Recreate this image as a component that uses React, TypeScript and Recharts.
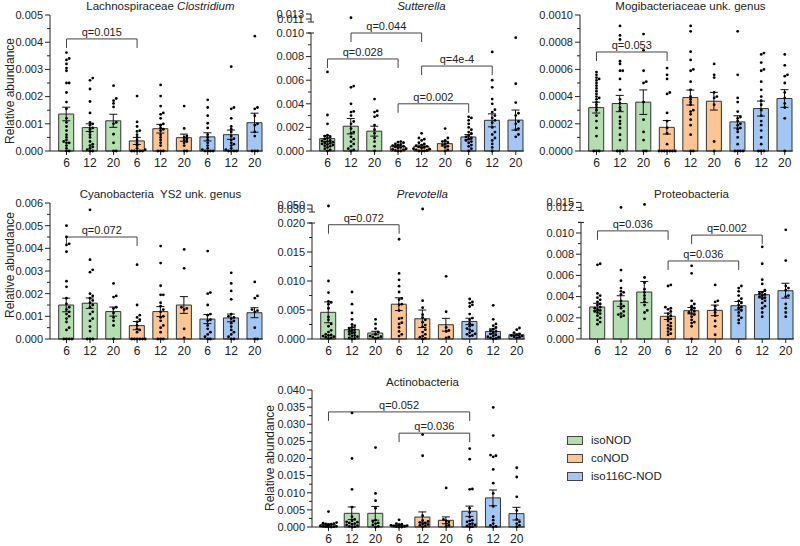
import React from 'react'
import { ComposedChart, Bar, Scatter, XAxis, YAxis, ErrorBar, Cell, ReferenceLine } from 'recharts'

const FONT = '"Liberation Sans", Arial, sans-serif'
const INK = '#222'

const groups = ['isoNOD', 'coNOD', 'iso116C-NOD']
const groupColors = ['#b3dfb0', '#fdc591', '#a3c7f4']
const ages = ['6', '12', '20']

// Lachnospiraceae Clostridium, x1e-3
const clostridiumMean = [1.36, 0.86, 1.11, 0.37, 0.82, 0.49, 0.52, 0.6, 1.04]
const clostridiumSem = [0.25, 0.14, 0.24, 0.13, 0.16, 0.13, 0.15, 0.17, 0.35]
const clostridiumPts = [
  [3.62, 3.4, 3.35, 3.2, 3.05, 2.95, 2.5, 2.5, 2.15, 1.8, 1.55, 1.2, 1.05, 0.9, 0.75, 0.6, 0.5, 0.4, 0.35, 0.3, 0.3, 0.2, 0.1, 0, 0],
  [2.68, 2.6, 2.28, 1.82, 1.4, 1.05, 1.0, 0.95, 0.85, 0.8, 0.7, 0.6, 0.5, 0.35, 0.25, 0.2, 0.15, 0.1, 0.05, 0, 0],
  [2.4, 1.93, 1.85, 1.75, 1.62, 1.05, 1.0, 0.62, 0.3, 0, 0],
  [2.02, 1.07, 0.9, 0.75, 0.72, 0.6, 0.5, 0.4, 0.3, 0.2, 0.1, 0.05, 0, 0, 0, 0, 0],
  [2.43, 2.02, 1.65, 1.4, 1.35, 1.2, 1.0, 0.95, 0.85, 0.8, 0.75, 0.6, 0.5, 0.4, 0.3, 0.2, 0, 0, 0],
  [1.65, 0.83, 0.55, 0.5, 0.45, 0.4, 0.35, 0.3, 0.2, 0, 0],
  [1.88, 1.6, 1.3, 1.02, 0.85, 0.6, 0.5, 0.4, 0.3, 0.2, 0.1, 0.05, 0, 0, 0, 0],
  [3.1, 1.6, 1.55, 1.2, 0.9, 0.8, 0.7, 0.55, 0.45, 0.4, 0.3, 0.25, 0.2, 0.1, 0.05, 0, 0, 0, 0],
  [4.22, 1.6, 1.55, 1.3, 1.0, 0.95, 0.7, 0.55, 0, 0, 0],
]

// Sutterella, x1e-3
const sutterellaMean = [1.05, 2.1, 1.68, 0.4, 0.4, 0.62, 1.19, 2.6, 2.62]
const sutterellaSem = [0.25, 0.65, 0.42, 0.08, 0.1, 0.2, 0.2, 0.55, 0.85]
const sutterellaPts = [
  [6.7, 3.05, 2.3, 1.35, 1.25, 1.2, 1.1, 1.0, 0.9, 0.85, 0.8, 0.75, 0.7, 0.65, 0.6, 0.55, 0.5, 0.45, 0.4, 0.3, 0.2, 0.1, 0],
  [11.5, 5.5, 5.4, 4.0, 3.35, 3.3, 3.0, 2.5, 2.3, 1.9, 1.6, 1.5, 1.2, 1.0, 0.8, 0.6, 0.4, 0.2, 0.1, 0],
  [4.4, 3.4, 3.3, 3.0, 2.9, 2.2, 1.8, 1.5, 1.1, 0.8, 0.4, 0],
  [0.8, 0.75, 0.7, 0.6, 0.55, 0.5, 0.45, 0.4, 0.35, 0.3, 0.25, 0.2, 0.15, 0.1, 0.05, 0, 0],
  [1.5, 1.1, 1.0, 0.9, 0.7, 0.6, 0.5, 0.45, 0.4, 0.35, 0.3, 0.25, 0.2, 0.15, 0.1, 0.05, 0, 0, 0],
  [1.9, 1.1, 0.9, 0.8, 0.7, 0.6, 0.5, 0.4, 0.3, 0.1, 0],
  [2.9, 2.8, 2.6, 2.3, 2.0, 1.8, 1.6, 1.5, 1.3, 1.2, 1.1, 1.0, 0.9, 0.8, 0.7, 0.5, 0.4, 0.2, 0],
  [8.4, 6.0, 5.4, 4.4, 4.0, 3.5, 3.3, 3.0, 2.8, 2.6, 2.4, 2.0, 1.6, 1.4, 1.1, 0.9, 0.6, 0.3, 0],
  [9.6, 5.7, 4.1, 3.2, 3.0, 2.5, 2.3, 1.9, 1.8, 1.4, 1.2],
]

// Mogibacteriaceae unk. genus, x1e-4
const mogiMean = [3.19, 3.49, 3.59, 1.74, 3.93, 3.66, 2.14, 3.12, 3.86]
const mogiSem = [0.4, 0.6, 0.9, 0.5, 0.55, 0.65, 0.45, 0.55, 0.65]
const mogiPts = [
  [5.8, 5.6, 5.4, 5.3, 5.2, 5.0, 4.8, 4.6, 4.4, 4.2, 4.0, 3.9, 3.8, 3.6, 3.4, 3.2, 3.0, 2.6, 2.2, 1.7, 1.1, 0, 0, 0],
  [9.2, 8.5, 8.2, 6.6, 6.4, 5.9, 5.9, 5.3, 4.5, 3.8, 3.5, 3.2, 3.0, 2.5, 2.2, 2.0, 1.7, 1.2, 0.8, 0, 0, 0],
  [8.6, 7.4, 5.9, 5.1, 5.0, 3.6, 2.3, 1.4, 0.8, 0, 0],
  [6.1, 5.6, 5.3, 4.3, 4.2, 2.8, 2.2, 1.7, 1.3, 0.5, 0, 0, 0, 0, 0, 0, 0],
  [9.2, 8.8, 7.3, 6.7, 6.0, 5.9, 5.1, 4.5, 4.0, 3.8, 3.6, 3.4, 3.0, 2.9, 2.7, 2.3, 1.9, 1.2, 0, 0],
  [6.4, 5.6, 5.4, 4.3, 4.0, 3.9, 3.4, 0.7, 0],
  [8.8, 5.6, 3.9, 3.6, 2.9, 2.5, 2.4, 2.2, 2.0, 1.9, 1.7, 1.6, 1.4, 1.0, 0.5, 0, 0, 0, 0],
  [7.2, 7.1, 6.5, 6.0, 5.9, 5.1, 4.5, 4.0, 3.7, 3.4, 3.0, 2.6, 2.2, 1.9, 1.5, 1.0, 0.5, 0, 0, 0],
  [7.1, 6.3, 5.6, 5.5, 5.0, 4.3, 3.9, 3.5, 3.2, 2.4, 0],
]

// Cyanobacteria YS2 unk. genus, x1e-3
const cyanoMean = [1.5, 1.58, 1.21, 0.59, 1.21, 1.5, 0.88, 0.93, 1.16]
const cyanoSem = [0.3, 0.23, 0.2, 0.18, 0.22, 0.37, 0.2, 0.17, 0.22]
const cyanoPts = [
  [5.0, 4.5, 4.2, 4.15, 3.85, 2.55, 2.3, 1.8, 1.55, 1.4, 1.3, 1.2, 1.1, 1.0, 0.9, 0.75, 0.5, 0.4, 0, 0, 0, 0],
  [5.7, 3.5, 3.05, 2.95, 2.0, 1.9, 1.8, 1.7, 1.6, 1.5, 1.4, 1.2, 1.1, 0.9, 0.8, 0.55, 0.35, 0, 0, 0],
  [2.45, 1.9, 1.85, 1.4, 1.35, 1.15, 0.95, 0.8, 0.6, 0],
  [3.28, 1.5, 1.05, 0.95, 0.85, 0.75, 0.6, 0.45, 0.4, 0.3, 0, 0, 0, 0, 0, 0],
  [4.1, 3.35, 2.35, 1.95, 1.95, 1.6, 1.45, 1.3, 1.2, 1.0, 0.95, 0.8, 0.6, 0.5, 0.3, 0, 0, 0],
  [3.95, 3.12, 1.4, 1.35, 1.3, 0.45, 0.05],
  [3.88, 2.05, 2.0, 1.5, 1.1, 1.05, 0.85, 0.8, 0.6, 0.45, 0.3, 0.2, 0.1, 0, 0],
  [2.92, 2.45, 2.12, 1.75, 1.1, 1.0, 0.95, 0.9, 0.8, 0.7, 0.55, 0.4, 0.3, 0.2, 0.1, 0, 0],
  [2.52, 1.9, 1.8, 1.3, 1.25, 1.2, 0.5, 0, 0],
]

// Prevotella, x1e-3
const prevotellaMean = [4.6, 1.6, 1.03, 6.0, 3.49, 2.46, 3.03, 1.3, 0.74]
const prevotellaSem = [1.8, 0.4, 0.3, 1.1, 1.5, 1.1, 0.55, 0.45, 0.15]
const prevotellaPts = [
  [45, 10.0, 8.0, 6.5, 6.3, 6.0, 5.3, 3.8, 3.3, 2.6, 2.2, 1.5, 1.2, 0.8, 0.7, 0.6, 0.5, 0.4, 0.3, 0.2, 0.1],
  [8.1, 6.0, 4.5, 3.4, 2.5, 2.3, 2.0, 1.8, 1.6, 1.5, 1.3, 1.1, 1.0, 0.8, 0.6, 0.5, 0.4, 0.2, 0.1, 0],
  [3.4, 2.6, 1.8, 1.2, 0.8, 0.5, 0.4, 0.3, 0.2, 0.1],
  [17.2, 11.3, 10.2, 9.1, 8.1, 7.0, 6.8, 6.0, 5.9, 4.9, 3.6, 3.5, 2.8, 2.6, 2.0, 1.3, 0.8, 0.5],
  [30, 6.6, 5.4, 4.2, 3.7, 3.3, 2.9, 2.4, 2.1, 1.6, 1.2, 0.8, 0.5, 0.3, 0.1, 0],
  [10.8, 4.7, 2.0, 1.5, 1.3, 0.3, 0.2],
  [6.9, 6.4, 6.2, 5.9, 5.6, 4.3, 3.6, 3.3, 2.7, 2.4, 2.2, 1.8, 1.6, 1.4, 1.1, 0.9, 0.8, 0.6, 0.5],
  [5.8, 3.4, 2.6, 2.3, 2.0, 1.7, 1.5, 1.3, 1.1, 0.9, 0.7, 0.5, 0.4, 0.3, 0.2, 0.1, 0],
  [1.9, 1.6, 1.1, 0.9, 0.7, 0.6, 0.5, 0.4, 0.3, 0.2],
]

// Proteobacteria, x1e-3
const proteoMean = [3.02, 3.58, 4.43, 2.14, 2.67, 2.7, 3.14, 4.18, 4.56]
const proteoSem = [0.35, 0.5, 1.0, 0.3, 0.3, 0.5, 0.4, 0.3, 0.7]
const proteoPts = [
  [7.1, 7.0, 4.3, 4.1, 3.9, 3.7, 3.5, 3.3, 3.2, 3.0, 2.9, 2.8, 2.7, 2.6, 2.5, 2.4, 2.2, 2.0, 1.8, 1.6, 1.4],
  [12, 6.5, 5.5, 4.8, 4.5, 4.4, 4.2, 3.6, 3.3, 3.1, 2.9, 2.6, 2.4, 2.3, 2.2, 2.1],
  [13.8, 5.8, 5.3, 4.7, 4.4, 4.1, 3.8, 3.5, 3.2, 2.7, 2.5, 1.9],
  [5.1, 5.0, 3.0, 2.9, 2.8, 2.6, 2.4, 2.2, 2.0, 1.9, 1.7, 1.5, 1.3, 1.2, 1.0, 0.9, 0.7, 0.5, 0.4],
  [6.9, 6.2, 3.6, 3.3, 3.1, 2.9, 2.8, 2.6, 2.5, 2.4, 2.3, 2.1, 1.8, 1.6, 1.5, 1.2, 0],
  [5.1, 3.6, 3.5, 3.1, 2.8, 2.5, 2.2, 1.7, 1.2, 0.4],
  [5.0, 4.8, 4.5, 4.1, 3.8, 3.6, 3.4, 3.2, 3.0, 2.9, 2.7, 2.5, 2.2, 2.0, 1.8, 1.5],
  [8.7, 7.1, 5.6, 5.2, 4.6, 4.4, 4.3, 4.2, 4.1, 4.0, 3.9, 3.8, 3.6, 3.4, 3.1, 2.9, 2.5, 2.1],
  [10.3, 7.4, 5.0, 4.8, 4.6, 4.1, 4.0, 3.3, 2.9, 2.5, 2.1],
]

// Actinobacteria, x1e-3
const actinoMean = [0.68, 4.0, 4.0, 0.5, 2.9, 1.95, 4.6, 8.5, 3.9]
const actinoSem = [0.2, 1.85, 2.0, 0.1, 1.5, 1.0, 1.5, 2.3, 1.85]
const actinoPts = [
  [4.5, 1.3, 1.1, 1.0, 0.9, 0.8, 0.7, 0.6, 0.5, 0.4, 0.3, 0.2, 0.2, 0.1, 0.1, 0, 0],
  [33.3, 20.0, 11.0, 5.8, 3.0, 2.2, 1.8, 1.5, 1.4, 1.2, 1.0, 0.8, 0.6, 0.4, 0.2, 0.1, 0],
  [23.2, 9.8, 7.7, 5.5, 2.0, 1.6, 1.2, 1.0, 0.6, 0.2, 0],
  [2.1, 1.0, 0.8, 0.7, 0.6, 0.5, 0.4, 0.3, 0.2, 0.1, 0, 0],
  [27.0, 20.8, 3.3, 1.9, 1.6, 1.3, 1.1, 0.9, 0.7, 0.5, 0.3, 0.1],
  [11.4, 2.2, 1.8, 1.5, 1.0, 0.5, 0.2],
  [22.9, 19.8, 11.1, 11.0, 5.5, 4.2, 2.9, 2.0, 1.8, 1.5, 1.0, 0.8, 0.6, 0.3, 0.1, 0],
  [34.9, 26.7, 21.0, 20.8, 20.5, 16.8, 12.8, 9.8, 6.0, 3.0, 2.0, 1.0, 0.5, 0.2, 0],
  [17.3, 14.6, 8.8, 4.8, 2.2, 1.5, 1.0, 0.5, 0.1],
]

type Bracket = { from: number; to: number; y: number; label: string }
type Brk = { low: number; up: [number, number]; gapPx: number; spanPx: number }
type Cfg = {
  title: React.ReactNode
  titleY: number
  means: number[]
  sems: number[]
  pts: number[][]
  unit: number
  axisX: number
  zeroY: number
  refVal: number
  refY: number
  topY: number
  major: number
  minor: number
  decimals: number
  brk?: Brk
  brackets: Bracket[]
  yLabel?: [number, number]
}

const X_MIN = -0.7
const X_MAX = 8.35
const STEP = 23.5
const Y_AXIS_W = 50

const panels: Cfg[] = [
  {
    title: <>Lachnospiraceae <i>Clostridium</i></>, titleY: 7,
    means: clostridiumMean, sems: clostridiumSem, pts: clostridiumPts, unit: 1e-3,
    axisX: 50, zeroY: 151, refVal: 0.005, refY: 15, topY: 15, major: 0.001, minor: 0.0005, decimals: 3,
    brackets: [{ from: 0, to: 3, y: 0.00412, label: 'q=0.015' }],
    yLabel: [10, 91],
  },
  {
    title: <i>Sutterella</i>, titleY: 7,
    means: sutterellaMean, sems: sutterellaSem, pts: sutterellaPts, unit: 1e-3,
    axisX: 311, zeroY: 151, refVal: 0.01, refY: 33, topY: 11, major: 0.002, minor: 0.001, decimals: 3,
    brk: { low: 0.01, up: [0.011, 0.013], gapPx: 14, spanPx: 5 },
    brackets: [
      { from: 1, to: 4, y: 0.01, label: 'q=0.044' },
      { from: 0, to: 3, y: 0.0078, label: 'q=0.028' },
      { from: 4, to: 7, y: 0.0072, label: 'q=4e-4' },
      { from: 3, to: 6, y: 0.004, label: 'q=0.002' },
    ],
  },
  {
    title: <>Mogibacteriaceae unk. genus</>, titleY: 7,
    means: mogiMean, sems: mogiSem, pts: mogiPts, unit: 1e-4,
    axisX: 580, zeroY: 151, refVal: 0.001, refY: 15, topY: 15, major: 0.0002, minor: 0.0001, decimals: 4,
    brackets: [{ from: 0, to: 3, y: 0.000728, label: 'q=0.053' }],
  },
  {
    title: <>Cyanobacteria&nbsp; YS2 unk. genus</>, titleY: 195,
    means: cyanoMean, sems: cyanoSem, pts: cyanoPts, unit: 1e-3,
    axisX: 50, zeroY: 339, refVal: 0.006, refY: 203, topY: 203, major: 0.001, minor: 0.0005, decimals: 3,
    brackets: [{ from: 0, to: 3, y: 0.0045, label: 'q=0.072' }],
    yLabel: [10, 265],
  },
  {
    title: <i>Prevotella</i>, titleY: 195,
    means: prevotellaMean, sems: prevotellaSem, pts: prevotellaPts, unit: 1e-3,
    axisX: 312, zeroY: 339, refVal: 0.02, refY: 223, topY: 202, major: 0.005, minor: 0.0025, decimals: 3,
    brk: { low: 0.02, up: [0.03, 0.05], gapPx: 14, spanPx: 4 },
    brackets: [{ from: 0, to: 3, y: 0.0197, label: 'q=0.072' }],
  },
  {
    title: <>Proteobacteria</>, titleY: 195,
    means: proteoMean, sems: proteoSem, pts: proteoPts, unit: 1e-3,
    axisX: 581, zeroY: 339, refVal: 0.01, refY: 233, topY: 201, major: 0.002, minor: 0.001, decimals: 3,
    brk: { low: 0.011, up: [0.012, 0.015], gapPx: 15, spanPx: 5 },
    brackets: [
      { from: 0, to: 3, y: 0.0102, label: 'q=0.036' },
      { from: 4, to: 7, y: 0.0098, label: 'q=0.002' },
      { from: 3, to: 6, y: 0.00736, label: 'q=0.036' },
    ],
  },
  {
    title: <>Actinobacteria</>, titleY: 383,
    means: actinoMean, sems: actinoSem, pts: actinoPts, unit: 1e-3,
    axisX: 312, zeroY: 527, refVal: 0.04, refY: 390, topY: 390, major: 0.005, minor: 0.0025, decimals: 3,
    brackets: [
      { from: 0, to: 6, y: 0.0336, label: 'q=0.052' },
      { from: 3, to: 6, y: 0.0274, label: 'q=0.036' },
    ],
    yLabel: [270, 458],
  },
]

// spread points sideways so equal values do not sit on top of each other
function swarm(ys: number[], ppu: number) {
  const order = ys.map((_, i) => i).sort((a, b) => ys[a] - ys[b])
  const placed: { y: number; x: number }[] = []
  const out = ys.map(() => 0)
  for (const i of order) {
    const y = ys[i] * ppu
    let pick = 0
    for (let k = 0; k < 7; k++) {
      const off = k === 0 ? 0 : (k % 2 ? 1 : -1) * Math.ceil(k / 2) * 2.7
      if (placed.every((p) => Math.abs(p.y - y) >= 2.6 || Math.abs(p.x - off) >= 2.7)) {
        pick = off
        break
      }
    }
    placed.push({ y, x: pick })
    out[i] = pick / STEP
  }
  return out
}

const Dot = (p: any) => <circle cx={p.cx} cy={p.cy} r={1.4} fill="#000" />

function Panel({ cfg }: { cfg: Cfg }) {
  const ppu = (cfg.zeroY - cfg.refY) / cfg.refVal
  const domMax = (cfg.zeroY - cfg.topY) / ppu
  const b = cfg.brk
  const tf = (v: number) => {
    if (!b || v <= b.low) return v
    const [a, c] = b.up
    if (v < a) return b.low + (((v - b.low) / (a - b.low)) * b.gapPx) / ppu
    return b.low + (b.gapPx + ((v - a) / (c - a)) * b.spanPx) / ppu
  }

  const bars = cfg.means.map((m, i) => ({ x: i, mean: m * cfg.unit, sem: cfg.sems[i] * cfg.unit }))
  const pts = cfg.pts.flatMap((arr, i) => {
    const ys = arr.map((v) => tf(v * cfg.unit))
    const dx = swarm(ys, ppu)
    return ys.map((y, j) => ({ x: i + dx[j], y }))
  })

  const labels = new Map<number, string>()
  const ticks: number[] = []
  const lowTop = b ? b.low : cfg.refVal
  const n = Math.round(lowTop / cfg.minor)
  const per = Math.round(cfg.major / cfg.minor)
  for (let i = 0; i <= n; i++) {
    const v = +(i * cfg.minor).toFixed(8)
    ticks.push(v)
    if (i % per === 0) labels.set(v, v.toFixed(cfg.decimals))
  }
  if (b) {
    b.up.forEach((u) => {
      const v = tf(u)
      ticks.push(v)
      labels.set(v, u.toFixed(cfg.decimals))
    })
  }

  const YTick = (p: any) => {
    const lab = labels.get(p.payload.value)
    return (
      <g>
        <line x1={Y_AXIS_W - (lab ? 5 : 3)} x2={Y_AXIS_W} y1={p.y} y2={p.y} stroke={INK} />
        {lab && (
          <text x={Y_AXIS_W - 7} y={p.y} dy="0.35em" textAnchor="end" fontSize={11} fill={INK} fontFamily={FONT}>
            {lab}
          </text>
        )}
      </g>
    )
  }

  const padTop = 8
  const top = cfg.topY - padTop
  const left = cfg.axisX - Y_AXIS_W
  const width = Y_AXIS_W + Math.round((X_MAX - X_MIN) * STEP)
  const height = cfg.zeroY - top + 30
  const drop = 9 / ppu
  const cap = 3 / STEP

  return (
    <div style={{ position: 'absolute', left, top }}>
      <ComposedChart width={width} height={height} data={bars} margin={{ top: padTop, right: 0, bottom: 0, left: 0 }}>
        <XAxis
          type="number"
          dataKey="x"
          domain={[X_MIN, X_MAX]}
          allowDataOverflow
          ticks={[0, 1, 2, 3, 4, 5, 6, 7, 8]}
          interval={0}
          tickFormatter={(v: number) => ages[v % 3]}
          tickSize={4}
          tickMargin={3}
          stroke={INK}
          tick={{ fontSize: 12, fill: INK, fontFamily: FONT }}
          height={30}
        />
        <XAxis xAxisId="pts" type="number" dataKey="x" domain={[X_MIN, X_MAX]} hide />
        <YAxis
          type="number"
          domain={[0, domMax]}
          ticks={ticks}
          interval={0}
          width={Y_AXIS_W}
          tickLine={false}
          axisLine={b ? false : { stroke: INK }}
          tick={YTick}
        />
        <Bar dataKey="mean" barSize={15} stroke="#333" strokeWidth={1} isAnimationActive={false}>
          {bars.map((_, i) => (
            <Cell key={i} fill={groupColors[Math.floor(i / 3)]} />
          ))}
          <ErrorBar dataKey="sem" width={4} stroke="#111" strokeWidth={1} />
        </Bar>
        <Scatter xAxisId="pts" data={pts} dataKey="y" shape={Dot} isAnimationActive={false} />
        {b && [
          <ReferenceLine key="a1" segment={[{ x: X_MIN, y: 0 }, { x: X_MIN, y: b.low }]} stroke={INK} ifOverflow="visible" />,
          <ReferenceLine key="a2" segment={[{ x: X_MIN - cap, y: b.low }, { x: X_MIN + cap, y: b.low }]} stroke={INK} ifOverflow="visible" />,
          <ReferenceLine key="a3" segment={[{ x: X_MIN, y: tf(b.up[0]) - 3 / ppu }, { x: X_MIN, y: tf(b.up[1]) }]} stroke={INK} ifOverflow="visible" />,
          <ReferenceLine key="a4" segment={[{ x: X_MIN - cap, y: tf(b.up[0]) - 3 / ppu }, { x: X_MIN + cap, y: tf(b.up[0]) - 3 / ppu }]} stroke={INK} ifOverflow="visible" />,
        ]}
        {cfg.brackets.flatMap((br, k) => {
          const y = tf(br.y)
          return [
            <ReferenceLine
              key={`h${k}`}
              segment={[{ x: br.from, y }, { x: br.to, y }]}
              stroke="#444"
              ifOverflow="visible"
              label={{ value: br.label, position: 'top', offset: 3, fontSize: 11, fill: INK, fontFamily: FONT }}
            />,
            <ReferenceLine key={`l${k}`} segment={[{ x: br.from, y }, { x: br.from, y: y - drop }]} stroke="#444" ifOverflow="visible" />,
            <ReferenceLine key={`r${k}`} segment={[{ x: br.to, y }, { x: br.to, y: y - drop }]} stroke="#444" ifOverflow="visible" />,
          ]
        })}
      </ComposedChart>
      <div
        style={{
          position: 'absolute',
          left: Y_AXIS_W + (4 - X_MIN) * STEP,
          top: cfg.titleY - top - 7,
          transform: 'translateX(-50%)',
          whiteSpace: 'nowrap',
          fontSize: 11.5,
          color: INK,
          fontFamily: FONT,
        }}
      >
        {cfg.title}
      </div>
      {cfg.yLabel && (
        <div
          style={{
            position: 'absolute',
            left: cfg.yLabel[0] - left,
            top: cfg.yLabel[1] - top,
            transform: 'translate(-50%, -50%) rotate(-90deg)',
            whiteSpace: 'nowrap',
            fontSize: 12,
            color: INK,
            fontFamily: FONT,
          }}
        >
          Relative abundance
        </div>
      )}
    </div>
  )
}

export default function App() {
  return (
    <div style={{ position: 'absolute', left: 0, top: 0, width: 800, height: 546, background: '#fff', fontFamily: FONT }}>
      {panels.map((p, i) => (
        <Panel key={i} cfg={p} />
      ))}
      {groups.map((g, i) => (
        <div key={g} style={{ position: 'absolute', left: 567, top: 440 + i * 18 - 7, display: 'flex', alignItems: 'center', height: 14 }}>
          <div style={{ width: 14, height: 7, background: groupColors[i], border: '1px solid #444' }} />
          <span style={{ marginLeft: 8, fontSize: 11.5, color: INK }}>{g}</span>
        </div>
      ))}
    </div>
  )
}
